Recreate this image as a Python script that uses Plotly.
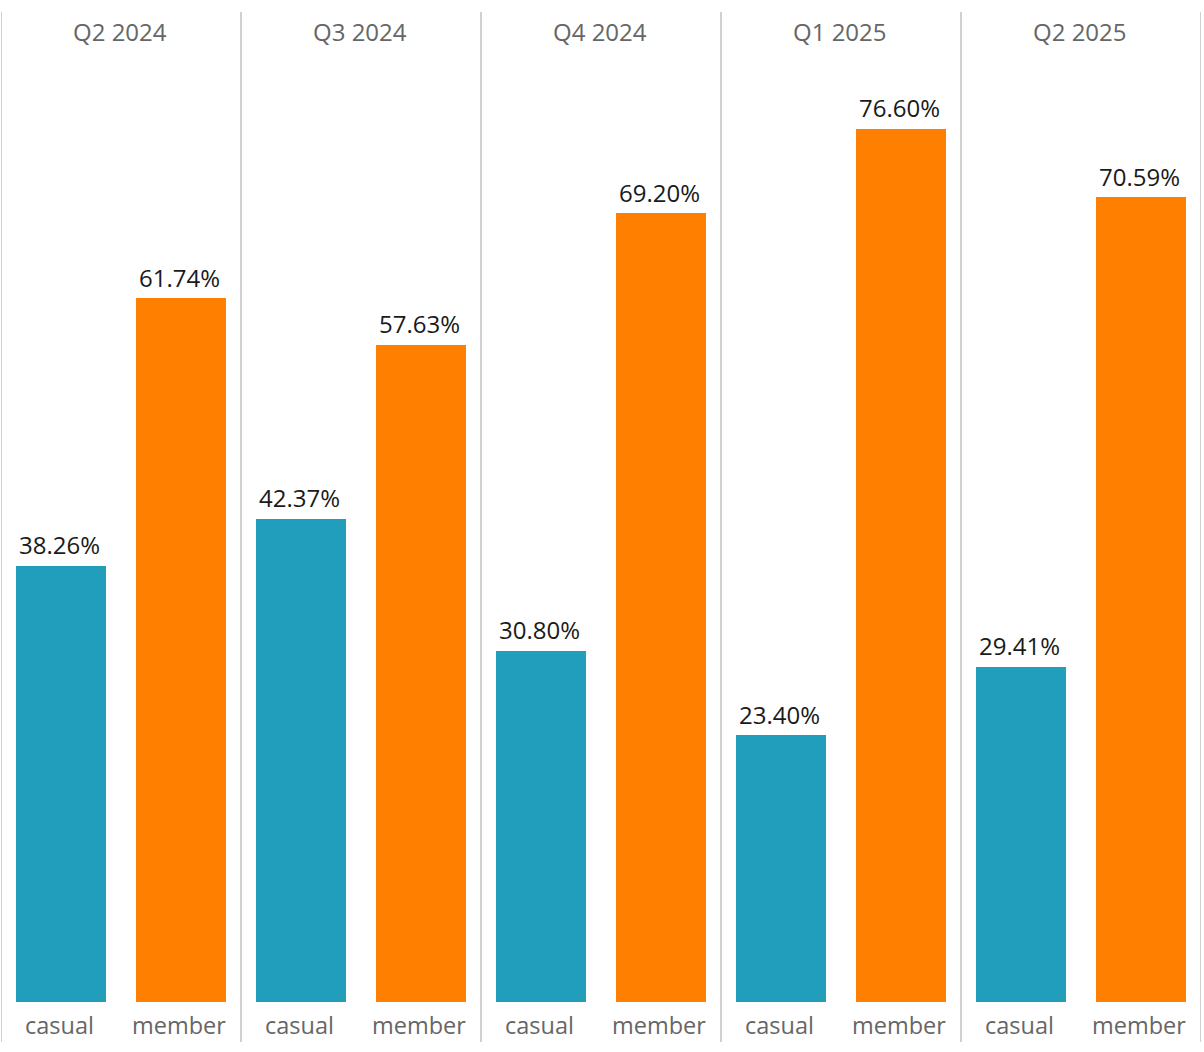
import plotly.graph_objects as go

quarters = ["Q2 2024", "Q3 2024", "Q4 2024", "Q1 2025", "Q2 2025"]
rider_types = ["casual", "member"]
casual_pct = [38.26, 42.37, 30.80, 23.40, 29.41]
member_pct = [61.74, 57.63, 69.20, 76.60, 70.59]

colors = {"casual": "#219EBC", "member": "#FF7F00"}
FONT = "Open Sans"

fig = go.Figure()
n = len(quarters)
for k, (rt, vals) in enumerate([("casual", casual_pct), ("member", member_pct)]):
    xs = [2 * i + k for i in range(n)]
    fig.add_trace(go.Bar(
        x=xs, y=vals, width=0.75,
        marker=dict(color=colors[rt], line=dict(width=0)),
        showlegend=False, name=rt, hoverinfo="y",
    ))
    for x, v in zip(xs, vals):
        fig.add_annotation(x=x, y=v, xref="x", yref="y", text=f"{v:.2f}%",
                           showarrow=False, yanchor="middle", yshift=21, xshift=-2,
                           font=dict(family=FONT, size=24, color="#1a1a1a"))
    for x in xs:
        fig.add_annotation(x=x, y=-23 / 950, xref="x", yref="paper", text=rt,
                           showarrow=False, yanchor="middle", xshift=-2,
                           font=dict(family=FONT, size=23.5, color="#666666"))

fig.update_layout(
    width=1204, height=1052,
    margin=dict(l=1, r=3, t=52, b=50),
    paper_bgcolor="white", plot_bgcolor="white",
    bargap=0,
    xaxis=dict(range=[-0.5, 2 * n - 0.5], showticklabels=False,
               showgrid=False, zeroline=False, showline=False, ticks=""),
    yaxis=dict(range=[0, 83.33], visible=False, showgrid=False, zeroline=False),
)

sep_color = "#d0d0d0"
for b in range(n + 1):
    xv = 2 * b - 0.5
    fig.add_shape(type="line", xref="x", yref="paper", x0=xv, x1=xv,
                  y0=-40 / 950, y1=1 + 40 / 950,
                  line=dict(color=sep_color, width=2), layer="below")

for i, q in enumerate(quarters):
    fig.add_annotation(x=2 * i + 0.5, xref="x", y=1 + 20 / 950, yref="paper",
                       text=q, showarrow=False, yanchor="middle", xshift=-1,
                       font=dict(family=FONT, size=24, color="#666666"))

fig.write_html("out.html")
